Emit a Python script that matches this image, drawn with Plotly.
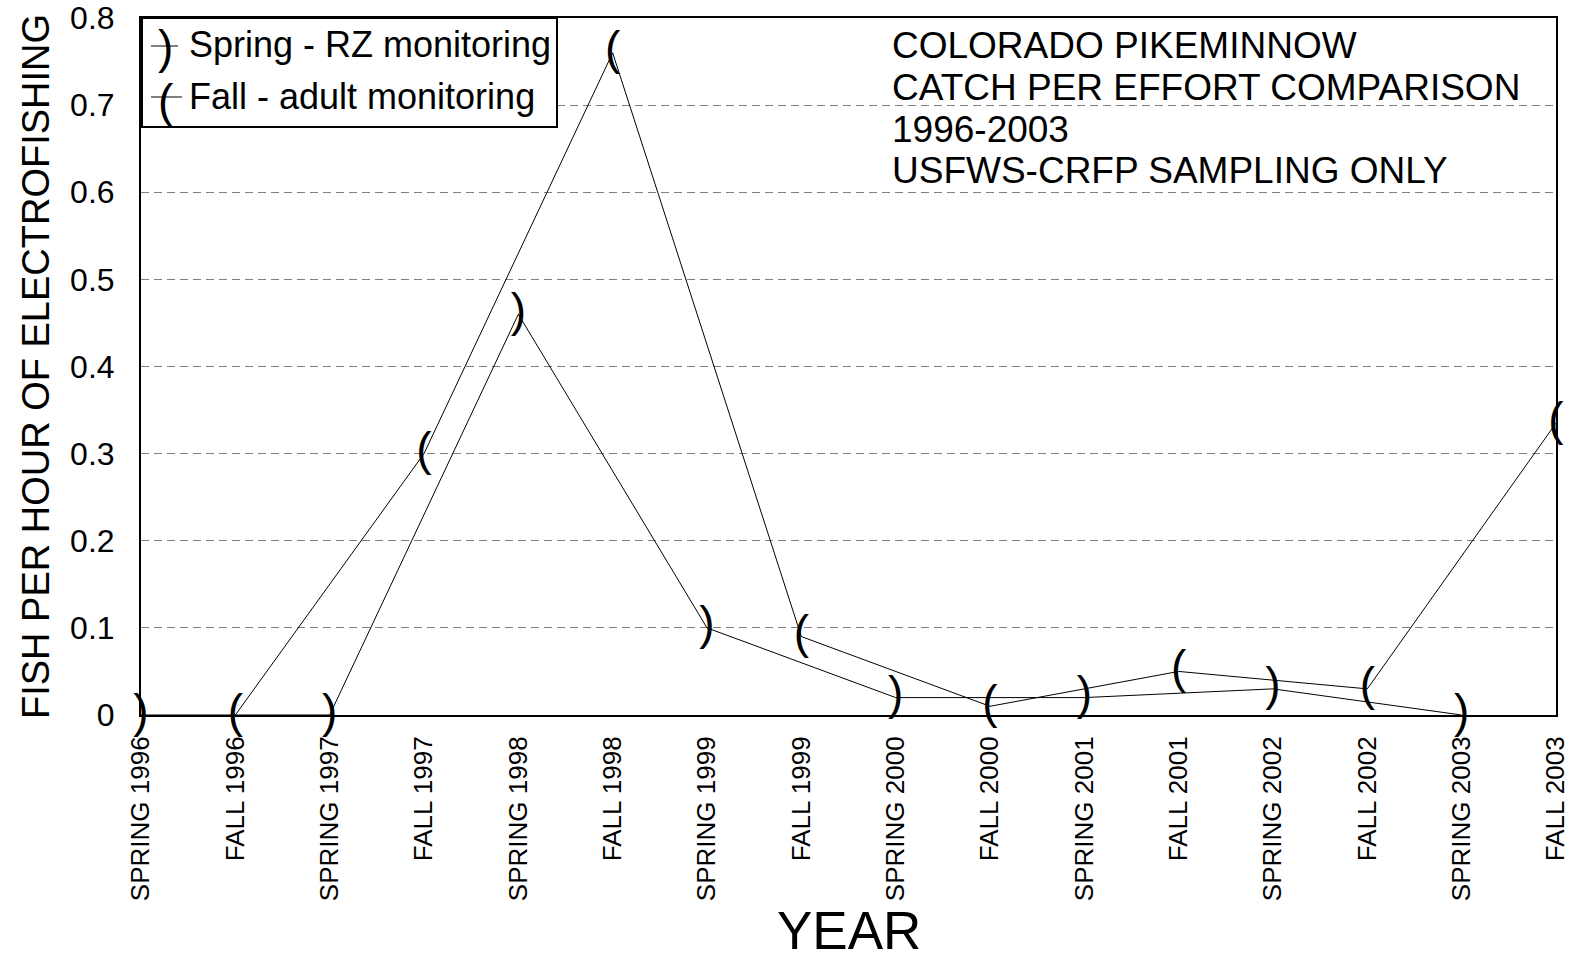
import plotly.graph_objects as go

# Sampling periods along the x axis
PERIODS = [
    "SPRING 1996", "FALL 1996", "SPRING 1997", "FALL 1997",
    "SPRING 1998", "FALL 1998", "SPRING 1999", "FALL 1999",
    "SPRING 2000", "FALL 2000", "SPRING 2001", "FALL 2001",
    "SPRING 2002", "FALL 2002", "SPRING 2003", "FALL 2003",
]

# Spring - RZ monitoring (fish per hour of electrofishing)
SPRING_PERIODS = ["SPRING 1996", "SPRING 1997", "SPRING 1998", "SPRING 1999",
                  "SPRING 2000", "SPRING 2001", "SPRING 2002", "SPRING 2003"]
SPRING_CPE = [0.0, 0.0, 0.46, 0.10, 0.02, 0.02, 0.03, 0.0]

# Fall - adult monitoring (fish per hour of electrofishing)
FALL_PERIODS = ["FALL 1996", "FALL 1997", "FALL 1998", "FALL 1999",
                "FALL 2000", "FALL 2001", "FALL 2002", "FALL 2003"]
FALL_CPE = [0.0, 0.30, 0.76, 0.09, 0.01, 0.05, 0.03, 0.335]

SERIES_NAMES = ["Spring - RZ monitoring", "Fall - adult monitoring"]
TITLE_LINES = ["COLORADO PIKEMINNOW", "CATCH PER EFFORT COMPARISON",
               "1996-2003", "USFWS-CRFP SAMPLING ONLY"]
Y_TICKS = [0, 0.1, 0.2, 0.3, 0.4, 0.5, 0.6, 0.7, 0.8]

FONT = "Liberation Sans, Arial, sans-serif"
GLYPH_SIZE = 46

fig = go.Figure()

fig.add_trace(go.Scatter(
    x=SPRING_PERIODS, y=SPRING_CPE, name=SERIES_NAMES[0],
    mode="lines+text", text=[")"] * len(SPRING_CPE),
    textposition="middle center",
    textfont=dict(family=FONT, size=GLYPH_SIZE, color="black"),
    line=dict(color="black", width=1),
    cliponaxis=False, showlegend=False, hoverinfo="x+y",
))
fig.add_trace(go.Scatter(
    x=FALL_PERIODS, y=FALL_CPE, name=SERIES_NAMES[1],
    mode="lines+text", text=["("] * len(FALL_CPE),
    textposition="middle center",
    textfont=dict(family=FONT, size=GLYPH_SIZE, color="black"),
    line=dict(color="black", width=1),
    cliponaxis=False, showlegend=False, hoverinfo="x+y",
))

# Plot area in pixels: x 141..1556, y 18..715
L, R, T, B = 141, 29, 18, 248
W, H = 1585, 963
PW, PH = W - L - R, H - T - B


def px(xp):
    return (xp - L) / PW


def py(yp):
    return (H - B - yp) / PH


shapes = []
annotations = []

# Legend box with line + glyph samples
shapes.append(dict(type="rect", xref="paper", yref="paper",
                   x0=px(142), x1=px(557), y0=py(127), y1=py(18),
                   line=dict(color="black", width=2), fillcolor="white",
                   layer="above"))
legend_rows = [
    (SERIES_NAMES[0], ")", 46, 47, 151, 178, 165),
    (SERIES_NAMES[1], "(", 97, 101, 151, 182, 166),
]
for label, glyph, ly, gy, lx0, lx1, gx in legend_rows:
    shapes.append(dict(type="line", xref="paper", yref="paper",
                       x0=px(lx0), x1=px(lx1), y0=py(ly), y1=py(ly),
                       line=dict(color="black", width=1), layer="above"))
    annotations.append(dict(xref="paper", yref="paper", x=px(gx), y=py(gy),
                            text=glyph, showarrow=False, xanchor="center",
                            yanchor="middle",
                            font=dict(family=FONT, size=GLYPH_SIZE, color="black")))
    annotations.append(dict(xref="paper", yref="paper", x=px(187), y=py(ly - 1),
                            text=label, showarrow=False, xanchor="left",
                            yanchor="middle",
                            font=dict(family=FONT, size=36, color="black")))

# Chart caption block
for i, line in enumerate(TITLE_LINES):
    annotations.append(dict(xref="paper", yref="paper", x=px(890),
                            y=py(46 + 41.5 * i), text=line, showarrow=False,
                            xanchor="left", yanchor="middle",
                            font=dict(family=FONT, size=37, color="black")))

# x-axis title, placed below the rotated period labels
annotations.append(dict(xref="paper", yref="paper", x=0.5, y=py(962),
                        text="YEAR", showarrow=False, xanchor="center",
                        yanchor="bottom",
                        font=dict(family=FONT, size=53, color="black")))

fig.update_layout(
    width=W, height=H,
    margin=dict(l=L, r=R, t=T, b=B, pad=0, autoexpand=False),
    paper_bgcolor="white", plot_bgcolor="white",
    font=dict(family=FONT, color="black"),
    showlegend=False,
    shapes=shapes,
    annotations=annotations,
)

fig.update_xaxes(
    type="category", categoryorder="array", categoryarray=PERIODS,
    range=[0, len(PERIODS) - 1], automargin=False,
    tickangle=-90, tickfont=dict(size=26, family=FONT, color="black"),
    ticks="", ticklabelstandoff=9,
    showgrid=False, zeroline=False,
    showline=True, linecolor="black", linewidth=2, mirror=True,
)
fig.update_yaxes(
    range=[0, 0.8], tickvals=Y_TICKS, automargin=False,
    ticktext=[f"{v:g}" for v in Y_TICKS],
    tickfont=dict(size=32, family=FONT, color="black"),
    ticks="", ticklabelstandoff=18,
    showgrid=True, gridcolor="#808080", gridwidth=1, griddash="8px,5px",
    zeroline=False,
    showline=True, linecolor="black", linewidth=2, mirror=True,
    title=dict(text="FISH PER HOUR OF ELECTROFISHING",
               font=dict(size=38, family=FONT, color="black"), standoff=9),
)

fig.write_html("out.html")
